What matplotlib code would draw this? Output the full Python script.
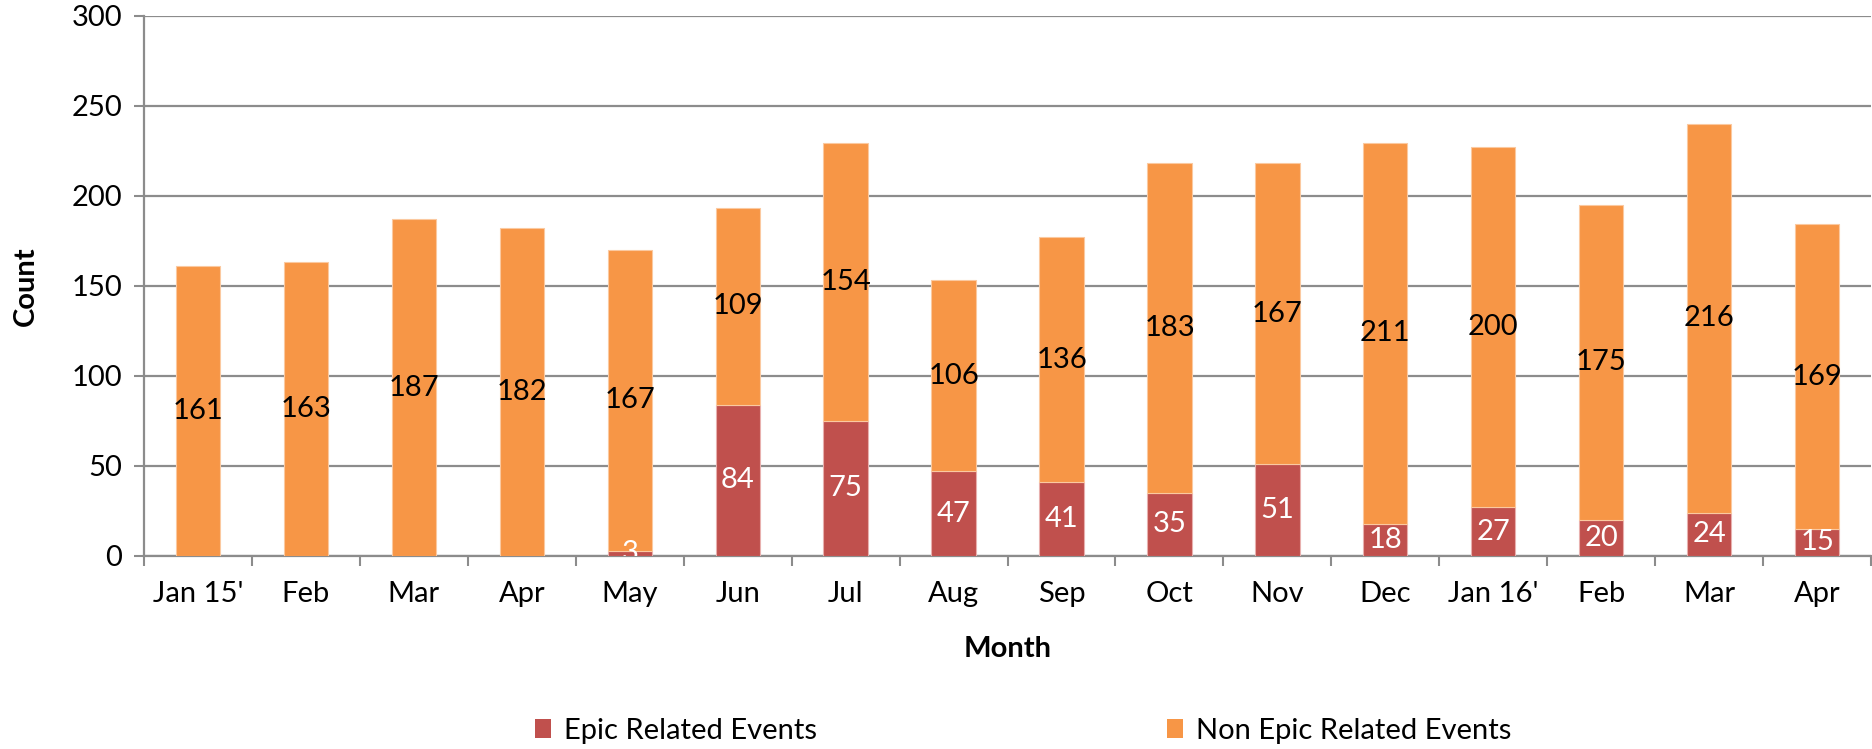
import matplotlib
matplotlib.use("Agg")
import matplotlib.pyplot as plt
import numpy as np
from matplotlib.patches import Patch

months = ["Jan 15'", "Feb", "Mar", "Apr", "May", "Jun", "Jul", "Aug", "Sep",
          "Oct", "Nov", "Dec", "Jan 16'", "Feb", "Mar", "Apr"]
epic = [0, 0, 0, 0, 3, 84, 75, 47, 41, 35, 51, 18, 27, 20, 24, 15]
non_epic = [161, 163, 187, 182, 167, 109, 154, 106, 136, 183, 167, 211, 200, 175, 216, 169]

RED = "#C0504D"
ORANGE = "#F79646"
GRID = "#8C8C8C"
FONT = "Lato"
FS = 21

plt.rcParams['font.family'] = [FONT, 'DejaVu Sans']

fig = plt.figure(figsize=(18.72, 7.49), dpi=100)
ax = fig.add_axes([144/1872, (749-556)/749, 1 - 144/1872 - 0.0005, (556-15.5)/749])

x = np.arange(len(months))
w = 0.41
ax.bar(x, epic, width=w, color=RED, edgecolor="#E8B0AE", linewidth=0.8, zorder=3)
ax.bar(x, non_epic, width=w, bottom=epic, color=ORANGE, edgecolor="#FBC9A0", linewidth=0.8, zorder=3)

for i in range(len(months)):
    if epic[i] > 0:
        ax.text(x[i], epic[i] / 2, str(epic[i]), ha="center", va="center",
                color="white", fontsize=FS, zorder=4, clip_on=True)
    ax.text(x[i], epic[i] + non_epic[i] / 2, str(non_epic[i]), ha="center", va="center",
            color="black", fontsize=FS, zorder=4)

ax.set_xlim(-0.5, len(months) - 0.5)
ax.set_ylim(0, 300)
ax.set_yticks(np.arange(0, 301, 50))
ax.yaxis.grid(True, color=GRID, linewidth=1.6, zorder=0)
ax.set_axisbelow(True)

ax.set_xticks(np.arange(-0.5, len(months), 1.0))
ax.set_xticklabels([])
ax.set_xticks(x, minor=True)
ax.set_xticklabels(months, minor=True)
ax.tick_params(axis="x", which="major", length=7.5, width=1.5, color=GRID, direction="out")
ax.tick_params(axis="x", which="minor", length=0, pad=18, labelsize=FS)
ax.tick_params(axis="y", length=7.5, width=1.5, color=GRID, labelsize=FS, pad=8)

for s in ["top", "right"]:
    ax.spines[s].set_visible(False)
for s in ["left", "bottom"]:
    ax.spines[s].set_color(GRID)
    ax.spines[s].set_linewidth(1.6)

ax.set_ylabel("Count", fontsize=FS, fontweight="bold", labelpad=24)
ax.set_xlabel("Month", fontsize=FS, fontweight="bold", labelpad=21)

handles = [Patch(facecolor=RED, edgecolor="none"), Patch(facecolor=ORANGE, edgecolor="none")]
fig.legend(handles, ["Epic Related Events", "Non Epic Related Events"],
           loc="center", bbox_to_anchor=(1023/1872, 1 - 731/749), ncol=2, frameon=False,
           fontsize=FS, handlelength=0.55, handleheight=0.6, handletextpad=0.45,
           columnspacing=12.0)

fig.savefig("out.png", dpi=100)
